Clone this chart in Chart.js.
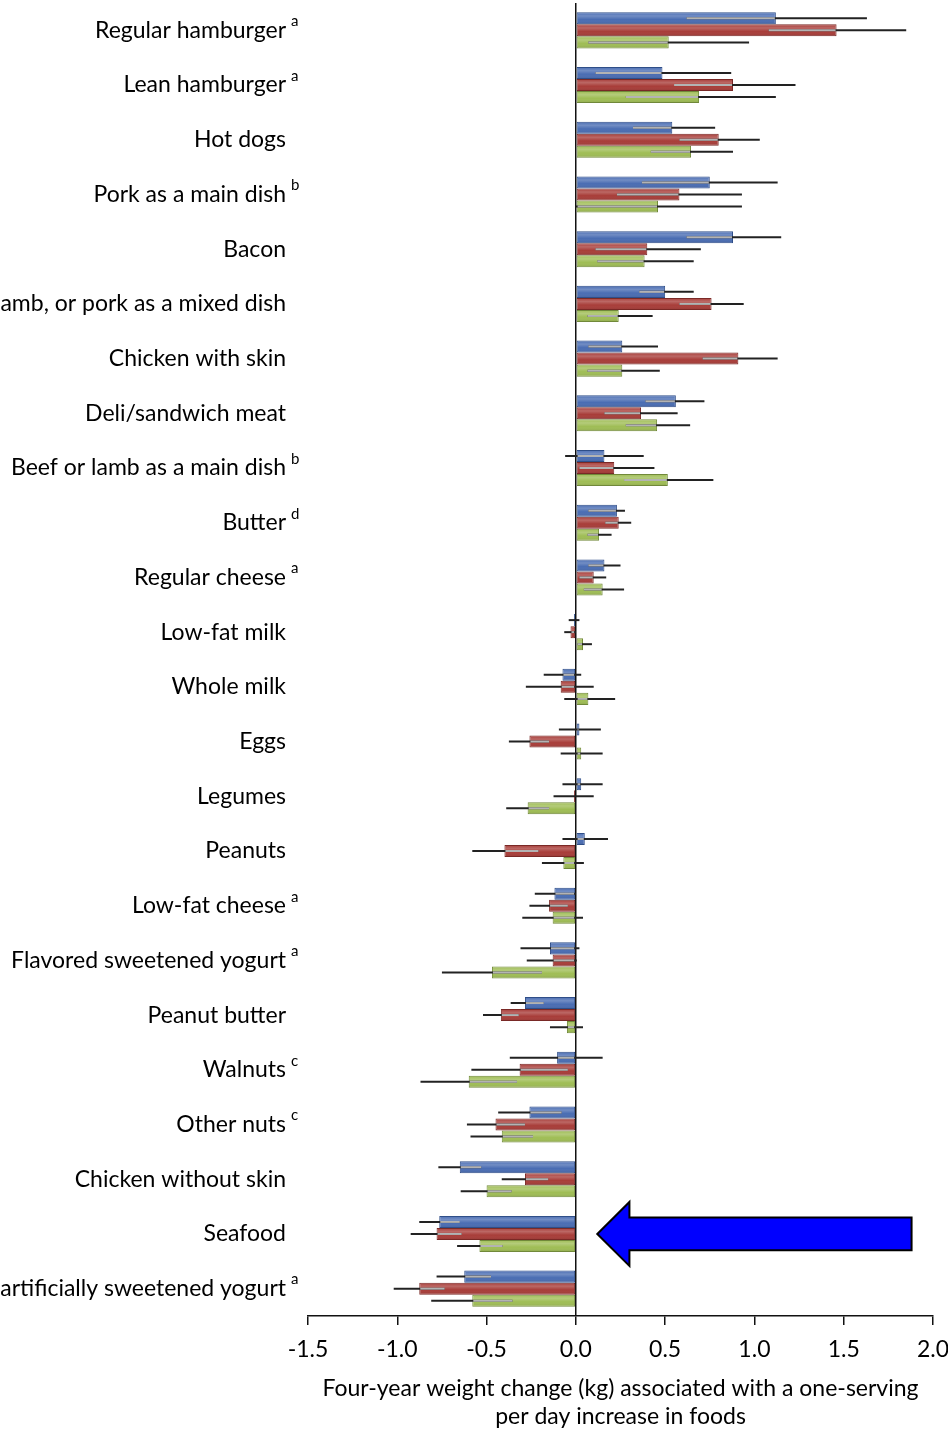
<!DOCTYPE html>
<html>
<head>
<meta charset="utf-8">
<script src="https://cdn.jsdelivr.net/npm/chart.js@4.4.1/dist/chart.umd.min.js"></script>
<style>
  html, body { margin: 0; padding: 0; background: #fff; overflow: hidden; }
  #wrap { position: relative; width: 970px; height: 1431px; }
</style>
</head>
<body>
<div id="wrap"><canvas id="chart"></canvas></div>
<script>
// Foods, top to bottom
const foods = [
  'Regular hamburger', 'Lean hamburger', 'Hot dogs', 'Pork as a main dish', 'Bacon',
  'Beef, lamb, or pork as a mixed dish', 'Chicken with skin', 'Deli/sandwich meat',
  'Beef or lamb as a main dish', 'Butter', 'Regular cheese', 'Low-fat milk', 'Whole milk',
  'Eggs', 'Legumes', 'Peanuts', 'Low-fat cheese', 'Flavored sweetened yogurt',
  'Peanut butter', 'Walnuts', 'Other nuts', 'Chicken without skin', 'Seafood',
  'Plain or artificially sweetened yogurt'
];
// Footnote markers shown after each food name
const notes = ['a', 'a', '', 'b', '', '', '', '', 'b', 'd', 'a', '', '', '', '', '', 'a', 'a', '', 'c', 'c', '', '', 'a'];

// Cohort 1 (blue): estimate and 95% CI
const nhs     = [1.12, 0.485, 0.54, 0.75, 0.88, 0.50, 0.26, 0.56, 0.16, 0.23, 0.16, -0.01, -0.075, 0.02, 0.03, 0.05, -0.12, -0.145, -0.285, -0.105, -0.26, -0.65, -0.765, -0.625];
const nhsLow  = [0.62, 0.11, 0.32, 0.37, 0.62, 0.355, 0.07, 0.39, -0.06, 0.07, 0.07, -0.04, -0.18, -0.095, -0.075, -0.075, -0.23, -0.31, -0.365, -0.37, -0.435, -0.77, -0.877, -0.78];
const nhsHigh = [1.63, 0.87, 0.78, 1.13, 1.15, 0.66, 0.46, 0.72, 0.38, 0.275, 0.25, 0.02, 0.03, 0.14, 0.15, 0.18, 0.0, 0.02, -0.18, 0.15, -0.08, -0.53, -0.65, -0.475];

// Cohort 2 (red)
const nhs2     = [1.46, 0.88, 0.80, 0.58, 0.40, 0.76, 0.91, 0.365, 0.215, 0.24, 0.10, -0.03, -0.085, -0.26, -0.01, -0.40, -0.15, -0.13, -0.42, -0.315, -0.45, -0.285, -0.78, -0.877];
const nhs2Low  = [1.08, 0.55, 0.58, 0.23, 0.11, 0.58, 0.71, 0.16, 0.02, 0.165, 0.02, -0.065, -0.28, -0.375, -0.125, -0.58, -0.26, -0.275, -0.52, -0.585, -0.61, -0.415, -0.925, -1.02];
const nhs2High = [1.85, 1.23, 1.03, 0.93, 0.70, 0.94, 1.13, 0.57, 0.44, 0.31, 0.17, 0.0, 0.10, -0.15, 0.10, -0.21, -0.045, 0.005, -0.32, -0.045, -0.285, -0.155, -0.64, -0.735];

// Cohort 3 (green)
const hpfs     = [0.52, 0.69, 0.645, 0.46, 0.385, 0.24, 0.26, 0.455, 0.515, 0.13, 0.15, 0.04, 0.07, 0.03, -0.27, -0.07, -0.13, -0.47, -0.05, -0.60, -0.415, -0.50, -0.54, -0.58];
const hpfsLow  = [0.07, 0.28, 0.42, 0.0, 0.12, 0.065, 0.065, 0.28, 0.27, 0.065, 0.045, 0.01, -0.065, -0.085, -0.39, -0.19, -0.30, -0.75, -0.145, -0.87, -0.59, -0.645, -0.665, -0.81];
const hpfsHigh = [0.97, 1.12, 0.88, 0.93, 0.66, 0.43, 0.47, 0.64, 0.77, 0.20, 0.27, 0.09, 0.22, 0.15, -0.15, 0.045, 0.04, -0.19, 0.04, -0.33, -0.24, -0.36, -0.41, -0.355];

// X axis range and title
const xMin = -1.5, xMax = 2.0, xStep = 0.5;
const xTitle = ['Four-year weight change (kg) associated with a one-serving', 'per day increase in foods'];

// Callout arrow: points left at the zero line, on the Seafood row
const arrowRow = 'Seafood';
const arrowTip = 0.12, arrowNeck = 0.30, arrowTail = 1.88;

const FONT = 'Lato, "Open Sans", sans-serif';

// Draw CI whiskers over each bar; the part inside the bar is lighter
const ciPlugin = {
  id: 'ciLines',
  afterDatasetsDraw(chart) {
    const { ctx, scales: { x } } = chart;
    chart.data.datasets.forEach((ds, di) => {
      const meta = chart.getDatasetMeta(di);
      meta.data.forEach((bar, i) => {
        const lo = x.getPixelForValue(ds.ciLow[i]);
        const hi = x.getPixelForValue(ds.ciHigh[i]);
        const a = Math.min(bar.x, bar.base), b = Math.max(bar.x, bar.base);
        ctx.save();
        ctx.lineWidth = 2;
        ctx.strokeStyle = '#222';
        ctx.beginPath(); ctx.moveTo(lo, bar.y); ctx.lineTo(hi, bar.y); ctx.stroke();
        const s = Math.max(lo, a + 1), e = Math.min(hi, b - 1);
        if (e > s) {
          ctx.strokeStyle = 'rgba(205,205,205,0.85)';
          ctx.beginPath(); ctx.moveTo(s, bar.y); ctx.lineTo(e, bar.y); ctx.stroke();
        }
        ctx.restore();
      });
    });
  }
};

// Soft top highlight on bars
const shadePlugin = {
  id: 'barShade',
  afterDatasetDraw(chart, args) {
    const { ctx } = chart;
    args.meta.data.forEach(bar => {
      const top = bar.y - bar.height / 2, h = bar.height;
      const l = Math.min(bar.x, bar.base), w = Math.abs(bar.x - bar.base);
      if (w < 2) return;
      const g = ctx.createLinearGradient(0, top, 0, top + h);
      g.addColorStop(0, 'rgba(255,255,255,0.0)');
      g.addColorStop(0.3, 'rgba(255,255,255,0.22)');
      g.addColorStop(0.6, 'rgba(255,255,255,0.0)');
      g.addColorStop(1, 'rgba(0,0,0,0.12)');
      ctx.save();
      ctx.fillStyle = g;
      ctx.fillRect(l + 1, top + 1, w - 2, h - 2);
      ctx.restore();
    });
  }
};

// Category names with superscript footnote markers
const labelPlugin = {
  id: 'foodLabels',
  afterDraw(chart) {
    const { ctx, scales: { y } } = chart;
    const right = chart.chartArea.left - 22;
    ctx.save();
    ctx.fillStyle = '#000';
    foods.forEach((name, i) => {
      const py = y.getPixelForValue(i);
      ctx.font = '23px ' + FONT;
      ctx.textAlign = 'right';
      ctx.textBaseline = 'middle';
      ctx.fillText(name, right, py);
      if (notes[i]) {
        ctx.font = '15px ' + FONT;
        ctx.textAlign = 'left';
        ctx.fillText(notes[i], right + 5, py - 9);
      }
    });
    ctx.restore();
  }
};

// Blue callout arrow
const arrowPlugin = {
  id: 'callout',
  afterDraw(chart) {
    const { ctx, scales: { x, y } } = chart;
    const row = foods.indexOf(arrowRow);
    const cy = y.getPixelForValue(row);
    const band = y.getPixelForValue(1) - y.getPixelForValue(0);
    const head = band * 0.585, shaft = band * 0.3;
    const tip = x.getPixelForValue(arrowTip), neck = x.getPixelForValue(arrowNeck), tail = x.getPixelForValue(arrowTail);
    ctx.save();
    ctx.beginPath();
    ctx.moveTo(tip, cy);
    ctx.lineTo(neck, cy - head);
    ctx.lineTo(neck, cy - shaft);
    ctx.lineTo(tail, cy - shaft);
    ctx.lineTo(tail, cy + shaft);
    ctx.lineTo(neck, cy + shaft);
    ctx.lineTo(neck, cy + head);
    ctx.closePath();
    ctx.fillStyle = '#0000FF';
    ctx.fill();
    ctx.lineWidth = 2;
    ctx.strokeStyle = '#000';
    ctx.lineJoin = 'miter';
    ctx.stroke();
    ctx.restore();
  }
};

const mk = (label, data, low, high, fill, edge) => ({
  label, data, ciLow: low, ciHigh: high,
  backgroundColor: fill, borderColor: edge, borderWidth: 1, borderSkipped: false,
  barPercentage: 1.0, categoryPercentage: 0.66
});

new Chart(document.getElementById('chart'), {
  type: 'bar',
  data: {
    labels: foods,
    datasets: [
      mk('NHS', nhs, nhsLow, nhsHigh, '#4A6DB3', '#2F4E88'),
      mk('NHS II', nhs2, nhs2Low, nhs2High, '#A83D39', '#7A2926'),
      mk('HPFS', hpfs, hpfsLow, hpfsHigh, '#9FBD55', '#71893A')
    ]
  },
  options: {
    indexAxis: 'y',
    responsive: true,
    maintainAspectRatio: false,
    animation: false,
    devicePixelRatio: 1,
    layout: { padding: { left: 308, right: 37, top: 3, bottom: 0 } },
    plugins: { legend: { display: false }, tooltip: { enabled: false } },
    scales: {
      x: {
        type: 'linear', min: xMin, max: xMax,
        ticks: {
          stepSize: xStep, color: '#000', padding: 11,
          font: { family: FONT, size: 23 },
          callback: v => v.toFixed(1)
        },
        grid: {
          color: c => (c.tick && Math.abs(c.tick.value) < 1e-9) ? '#111' : 'rgba(0,0,0,0)',
          lineWidth: 1.5, tickLength: 9, tickColor: '#111', tickWidth: 1.5
        },
        border: { display: true, color: '#111', width: 1.5 },
        title: {
          display: true, text: xTitle, color: '#000', padding: 0,
          font: { family: FONT, size: 23, lineHeight: 1.217 }
        },
        afterFit: s => { s.height = 115; }
      },
      y: { type: 'category', display: false }
    }
  },
  plugins: [shadePlugin, ciPlugin, labelPlugin, arrowPlugin]
});
</script>
</body>
</html>
